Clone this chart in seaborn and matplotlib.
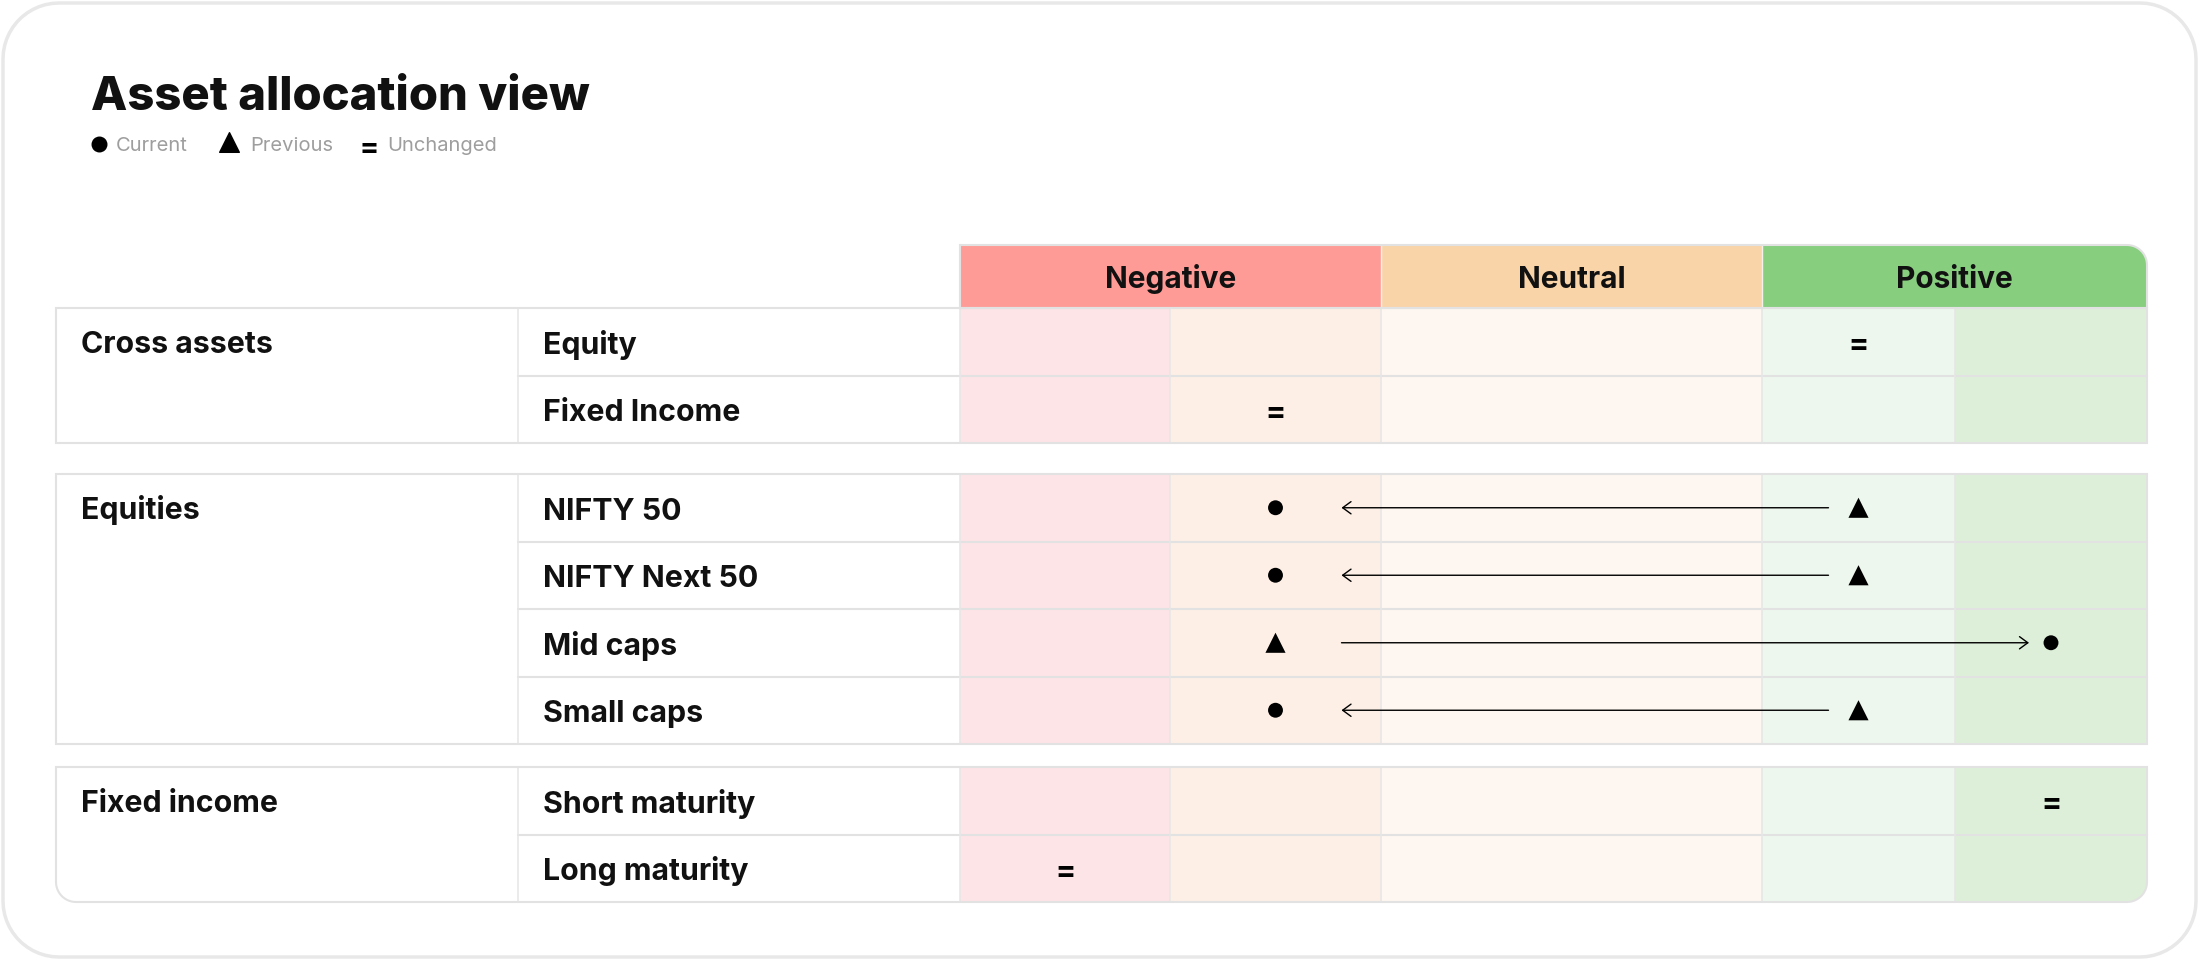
import numpy as np
import pandas as pd
import seaborn as sns
import matplotlib.pyplot as plt
from matplotlib.patches import PathPatch
from matplotlib.path import Path

sns.set_theme(style="white")
plt.rcParams['font.family'] = ['Inter', 'DejaVu Sans']

# data
groups = ["Cross assets", "Equities", "Fixed income"]
items = ["Equity", "Fixed Income", "NIFTY 50", "NIFTY Next 50",
         "Mid caps", "Small caps", "Short maturity", "Long maturity"]
item_group = [0, 0, 1, 1, 1, 1, 2, 2]
# 0 = strongly negative ... 2 = neutral ... 4 = strongly positive
current_view = [3, 1, 1, 1, 4, 1, 4, 0]
previous_view = [3, 1, 3, 3, 1, 3, 4, 0]
view_names = ["Negative", "Neutral", "Positive"]
view_span = [(0, 1), (2, 2), (3, 4)]

# layout (pixels, y grows downward)
col_edges = [960, 1170, 1381, 1762, 1955, 2147]
label_edges = [56, 518, 960]
header_top, header_bot = 245, 308
section_tops = [308, 474, 767]
row_h = 67.5

header_colors = ["#ff9b96", "#f9d4a9", "#87ce7f"]
cell_colors = ["#fde4e7", "#fdefe6", "#fef6f0", "#eef7ee", "#ddefd9"]
line_col = "#e2e2e2"


def rounded_path(x0, y0, x1, y1, r):
    tl, tr, br, bl = r
    pts = []

    def arc(cx, cy, rad, a0, a1):
        for a in np.linspace(a0, a1, 14):
            pts.append((cx + rad * np.cos(a), cy + rad * np.sin(a)))

    arc(x0 + tl, y0 + tl, tl, np.pi, 1.5 * np.pi)
    arc(x1 - tr, y0 + tr, tr, 1.5 * np.pi, 2 * np.pi)
    arc(x1 - br, y1 - br, br, 0, 0.5 * np.pi)
    arc(x0 + bl, y1 - bl, bl, 0.5 * np.pi, np.pi)
    pts.append(pts[0])
    return Path(pts, closed=True)


def box(ax, x0, y0, x1, y1, r=(0, 0, 0, 0), fc="none", ec="none", lw=0, z=1):
    ax.add_patch(PathPatch(rounded_path(x0, y0, x1, y1, r), facecolor=fc,
                           edgecolor=ec, lw=lw, zorder=z))


fig = plt.figure(figsize=(22, 9.6), dpi=100, facecolor="white")
ax = fig.add_axes([0, 0, 1, 1])

# card
box(ax, 3, 3, 2196, 957, (56, 56, 56, 56), fc="white", ec="#e8e8e8", lw=2.5, z=0)

# title + legend
ax.text(91, 110, "Asset allocation view", fontsize=34, fontweight="heavy",
        color="#111111", va="baseline")
leg_grey = "#9e9e9e"
ax.scatter([99], [144], s=110, marker="o", color="black", zorder=5)
ax.text(116, 151, "Current", fontsize=14.5, color=leg_grey, va="baseline")
ax.scatter([229], [142], s=200, marker="^", color="black", zorder=5)
ax.text(250, 151, "Previous", fontsize=14.5, color=leg_grey, va="baseline")
ax.text(369, 146, "=", fontsize=20, fontweight="heavy", color="black",
        ha="center", va="center_baseline")
ax.text(387, 151, "Unchanged", fontsize=14.5, color=leg_grey, va="baseline")

# header row
for k, (name, (a, b)) in enumerate(zip(view_names, view_span)):
    x0, x1 = col_edges[a], col_edges[b + 1]
    r = (0, 20, 0, 0) if k == len(view_names) - 1 else (0, 0, 0, 0)
    box(ax, x0, header_top, x1, header_bot, r, fc=header_colors[k], z=1)
    ax.text((x0 + x1) / 2, (header_top + header_bot) / 2 + 11, name,
            fontsize=21.5, fontweight="bold", color="#111111",
            ha="center", va="baseline", zorder=4)
for x in col_edges[2:4]:
    ax.plot([x, x], [header_top, header_bot], color="#f4f0ec", lw=1, zorder=2)
box(ax, col_edges[0], header_top, col_edges[-1], header_bot, (0, 20, 0, 0),
    ec=line_col, lw=1.5, z=3)

# body
row_y = []
for g, name in enumerate(groups):
    idx = [i for i, gg in enumerate(item_group) if gg == g]
    top = section_tops[g]
    bot = top + row_h * len(idx)
    last = g == len(groups) - 1
    rad = 20 if last else 0
    box(ax, label_edges[0], top, label_edges[2], bot, (0, 0, 0, rad), fc="white", z=1)
    for j, i in enumerate(idx):
        y0 = top + j * row_h
        y1 = y0 + row_h
        row_y.append((y0 + y1) / 2)
        for c in range(5):
            r = (0, 0, rad, 0) if (last and c == 4 and j == len(idx) - 1) else (0, 0, 0, 0)
            box(ax, col_edges[c], y0, col_edges[c + 1], y1, r, fc=cell_colors[c], z=1)
        ax.text(label_edges[1] + 25, (y0 + y1) / 2 + 12, items[i], fontsize=21.8,
                fontweight="bold", color="#111111", va="baseline", zorder=4)
        if j > 0:
            ax.plot([label_edges[1], col_edges[-1]], [y0, y0], color=line_col,
                    lw=1.5, zorder=2)
    ax.text(label_edges[0] + 25, top + row_h / 2 + 11, name, fontsize=21.8,
            fontweight="bold", color="#111111", va="baseline", zorder=4)
    for x in [label_edges[1], label_edges[2]] + col_edges[1:-1]:
        ax.plot([x, x], [top, bot], color="#e6e6e6", lw=1.1, zorder=2)
    box(ax, label_edges[0], top, col_edges[-1], bot, (0, 0, rad, rad),
        ec=line_col, lw=1.5, z=3)

# markers
centers = [(col_edges[c] + col_edges[c + 1]) / 2 for c in range(5)]
df = pd.DataFrame({"item": items, "y": row_y,
                   "current": current_view, "previous": previous_view})
moved = df[df["current"] != df["previous"]]
pts = pd.concat([
    pd.DataFrame({"x": moved["current"].map(lambda v: centers[v]), "y": moved["y"], "kind": "Current"}),
    pd.DataFrame({"x": moved["previous"].map(lambda v: centers[v]), "y": moved["y"], "kind": "Previous"}),
])
sns.scatterplot(data=pts, x="x", y="y", style="kind", size="kind",
                markers={"Current": "o", "Previous": "^"},
                sizes={"Current": 115, "Previous": 210},
                color="black", edgecolor="none", legend=False, ax=ax, zorder=5)

for _, r in moved.iterrows():
    xc, xp = centers[r["current"]], centers[r["previous"]]
    if xc < xp:
        start, end = xp - 30, xc + 66
    else:
        start, end = xp + 66, xc - 22
    ax.annotate("", xy=(end, r["y"]), xytext=(start, r["y"]),
                arrowprops=dict(arrowstyle="->,head_length=0.3,head_width=0.22",
                                lw=1.0, color="black", shrinkA=0, shrinkB=0,
                                mutation_scale=20), zorder=5)

same = df[df["current"] == df["previous"]]
for _, r in same.iterrows():
    ax.text(centers[r["current"]], r["y"] + 1, "=", fontsize=21, fontweight="heavy",
            color="black", ha="center", va="center_baseline", zorder=5)

ax.set_xlim(0, 2200)
ax.set_ylim(960, 0)
ax.axis("off")
fig.savefig("out.png", dpi=100, facecolor="white")
